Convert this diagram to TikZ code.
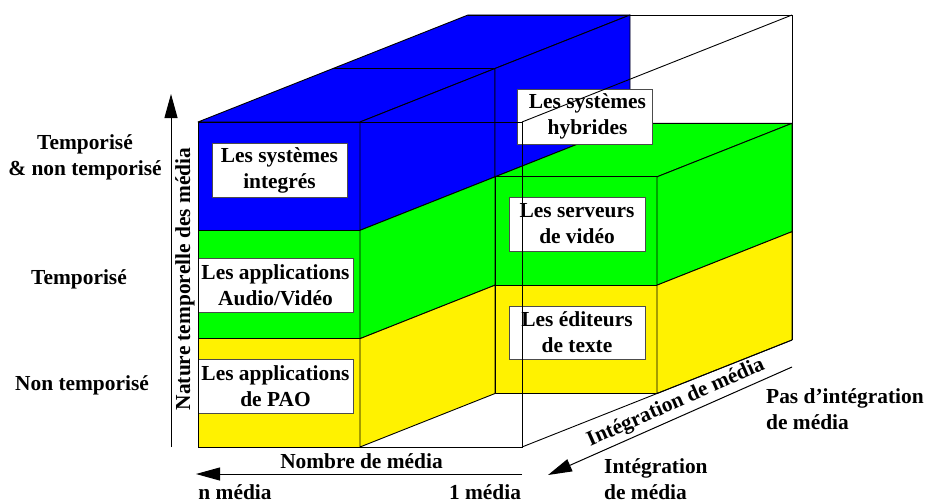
\documentclass[tikz,border=0pt]{standalone}
\usepackage{fontspec}
\setmainfont{Liberation Serif}
\usetikzlibrary{arrows.meta}
\begin{document}
\begin{tikzpicture}[x=1pt,y=-1pt,
  font=\fontsize{21.4}{26}\selectfont\bfseries,
  face/.style={draw=black, line width=0.9pt, line join=round},
  bl/.style={face, fill=blue},
  gr/.style={face, fill=green},
  ye/.style={face, fill=yellow},
  edge/.style={draw=black, line width=0.9pt},
  lab/.style={draw=black!70, fill=white, line width=0.8pt, align=center, inner sep=0pt},
  txt/.style={inner sep=0pt, align=center},
  arr/.style={draw=black, line width=1pt, -{Triangle[length=24pt,width=13pt]}}
]
\useasboundingbox (0,0) rectangle (928,503);
% left column top face
\path[bl] (198,122) -- (360,122) -- (630,15) -- (468,15) -- cycle;
\draw[edge] (333,68.5) -- (495,68.5);
% left column front face
\path[bl] (198,122) rectangle (360,230.33);
\path[gr] (198,230.33) rectangle (360,338.67);
\path[ye] (198,338.67) rectangle (360,447);
% left column right face, front half
\path[bl] (360,122) -- (495,68.5) -- (495,176.83) -- (360,230.33) -- cycle;
\path[gr] (360,230.33) -- (495,176.83) -- (495,285.17) -- (360,338.67) -- cycle;
\path[ye] (360,338.67) -- (495,285.17) -- (495,393.5) -- (360,447) -- cycle;
% left column right face, back half, top layer
\path[bl] (495,68.5) -- (630,15) -- (630,123.33) -- (495,176.83) -- cycle;
% right column block (back half)
\path[gr] (495,176.83) -- (657,176.83) -- (792,123.33) -- (630,123.33) -- cycle;
\path[gr] (495,176.83) rectangle (657,285.17);
\path[ye] (495,285.17) rectangle (657,393.5);
\path[gr] (657,176.83) -- (792,123.33) -- (792,231.67) -- (657,285.17) -- cycle;
\path[ye] (657,285.17) -- (792,231.67) -- (792,340) -- (657,393.5) -- cycle;
% labels in boxes
\node[lab, minimum width=135pt, minimum height=54pt] (integ) at (279.5,170) {Les systèmes\\integrés};
\node[lab, minimum width=155pt, minimum height=54pt] (audio) at (275.5,285) {Les applications\\Audio/Vidéo};
\node[lab, minimum width=155pt, minimum height=54pt] (pao) at (275.5,386) {Les applications\\de PAO};
\node[lab, minimum width=135pt, minimum height=55pt] (hyb) at (584.5,116.5) {\hspace{6pt}Les systèmes\\\hspace{6pt}hybrides};
\node[lab, minimum width=136pt, minimum height=54pt] (serv) at (577,224) {Les serveurs\\de vidéo};
\node[lab, minimum width=136pt, minimum height=53pt] (edit) at (577,332.5) {Les éditeurs\\de texte};
% outline of the whole box
\draw[edge] (198,122) rectangle (522,447);
\draw[edge] (468,15) -- (792,15) -- (792,340);
\draw[edge] (522,122) -- (792,15);
\draw[edge] (522,447) -- (792,340);
% axes
\coordinate (vA) at (171,447);
\coordinate (vB) at (171,94);
\draw[arr] (vA) -- (vB);
\coordinate (hA) at (522,474);
\coordinate (hB) at (196,474);
\draw[arr] (hA) -- (hB);
\coordinate (dA) at (792,367);
\coordinate (dB) at (548,475);
\draw[arr] (dA) -- (dB);
% axis texts
\node[txt, rotate=90] (nat) at (185,279) {Nature temporelle des média};
\node[txt] (nb) at (361.5,461) {Nombre de média};
\node[txt] (nm) at (235,492) {n média};
\node[txt] (um) at (485,492) {1 média};
\node[txt, rotate=23.8] (intd) at (676,403) {Intégration de média};
\node[txt, align=left, anchor=west] (pas) at (766,409) {Pas d’intégration\\de média};
\node[txt, align=left, anchor=west] (intb) at (604,479) {Intégration\\de média};
% level texts
\node[txt] (tnt) at (85,157) {Temporisé\\\& non temporisé};
\node[txt] (tmp) at (79,279) {Temporisé};
\node[txt] (ntp) at (82,385) {Non temporisé};
\end{tikzpicture}
\end{document}
